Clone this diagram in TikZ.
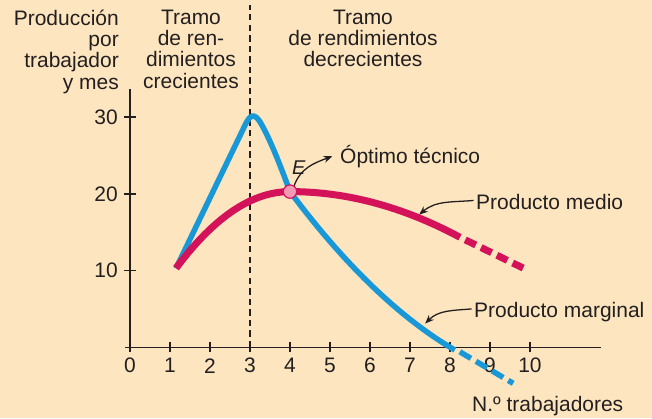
\documentclass[tikz,border=0pt]{standalone}
\usepackage{fontspec}
\setmainfont{Liberation Sans}
\usetikzlibrary{arrows.meta}

\definecolor{fondo}{RGB}{253,230,191}
\definecolor{azulPMg}{RGB}{24,152,214}
\definecolor{rojoPMe}{RGB}{212,18,90}
\definecolor{rosaE}{RGB}{242,154,180}
\definecolor{tinta}{RGB}{35,31,32}

\begin{document}
\begin{tikzpicture}[x=1.2cm, y=0.2301cm,
        every node/.style={font=\fontsize{17.9}{18.1}\selectfont, text=tinta, inner sep=0pt},
        eje/.style={draw=tinta, line width=1.3pt},
        marginal/.style={draw=azulPMg, line width=4.7pt},
        medio/.style={draw=rojoPMe, line width=6pt},
        flecha/.style={draw=tinta, line width=1.1pt, -{Stealth[length=7.5pt, width=6pt]}}]
            \fill[fondo] (-3.25,-9.22) rectangle (13.05,45.28);
            \useasboundingbox (-3.25,-9.22) rectangle (13.05,45.28);
            % ejes
            \draw[eje] (-0.12,0) -- (11.78,0);
            \draw[eje] (0,-0.6) -- (0,33.7);
            \foreach \i in {1,...,10} {
                        \draw[eje] (\i,-0.65) -- (\i,0.65);
                    }
            \foreach \i in {0,...,10} {
                        \node (x\i) at (\i,-2.4) {\i};
                    }
            \foreach \j in {10,20,30} {
                        \draw[eje] (-0.15,\j) -- (0.15,\j);
                        \node [anchor=east] (y\j) at (-0.3,\j) {\j};
                    }
            \draw[tinta, line width=1pt, dash pattern=on 5.5pt off 3.5pt] (3,0) -- (3,44.6);
            % textos de arriba
            \node [anchor=north east, align=right] (ylabel) at (-0.275,44.0) {Producción\\por\\trabajador\\y mes};
            \node [anchor=north, align=center] (tramoCrec) at (1.525,44.0) {Tramo\\de ren-\\dimientos\\crecientes};
            \node [anchor=north, align=center] (tramoDecrec) at (5.825,44.0) {Tramo\\de rendimientos\\decrecientes};
            % curvas
            \draw[marginal] (1.15,10.3) -- (2.88,29.0) .. controls (3.0,30.3) and (3.1,30.6) .. (3.25,29.4)
                .. controls (3.5,27.2) and (3.75,23.8) .. (4,20.3)
                -- plot[domain=4:8.12, samples=30] (\x,{20.3-6.98*(\x-4)+0.477*(\x-4)^2});
            \draw[marginal, dash pattern=on 11pt off 5pt, dash phase=11pt] (8.12,-0.2) -- (9.58,-4.7);
            \draw[medio] plot[domain=1.15:4, samples=30] (\x,{20.3-1.23*(4-\x)^2}) -- plot[domain=4:8.25, samples=30] (\x,{20.3-0.33*(\x-4)^2});
            \draw[medio, dash pattern=on 10pt off 5pt, dash phase=10pt] (8.25,14.34) -- (9.92,10.1);
            \node [circle, draw=rojoPMe, fill=rosaE, line width=1pt, minimum size=11.4pt] (puntoE) at (4,20.3) {};
            \node [font=\fontsize{17}{19}\selectfont\itshape] (letraE) at (4.22,23.4) {E};
            % etiquetas
            \node [anchor=base west] (tecnico) at (5.25,24.0) {Óptimo técnico};
            \node [anchor=base west] (pmedio) at (8.65,18.0) {Producto medio};
            \node [anchor=base west] (pmarginal) at (8.6,3.86) {Producto marginal};
            \node [anchor=base west] (trabajadores) at (8.55,-8.4) {N.º trabajadores};
            \coordinate (puntaMedio) at (7.23,17.3);
            \coordinate (puntaMarginal) at (7.38,3.1);
            \draw[flecha] (puntoE.55) to[out=70, in=200] ([xshift=-6.5pt]tecnico.west);
            \draw[flecha] ([shift={(-2pt,7.5pt)}]pmedio.base west) to[out=185, in=40] (puntaMedio);
            \draw[flecha] ([shift={(-2pt,7.5pt)}]pmarginal.base west) to[out=185, in=45] (puntaMarginal);
        \end{tikzpicture}
\end{document}
